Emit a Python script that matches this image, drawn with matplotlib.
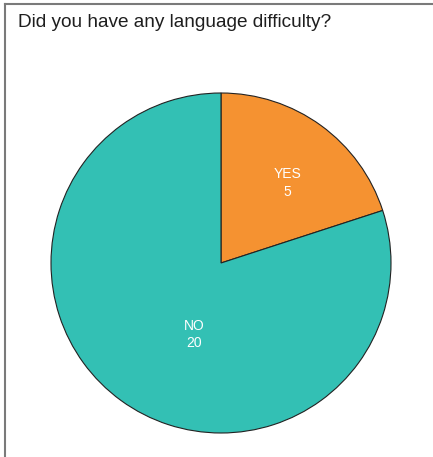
import matplotlib
matplotlib.use("Agg")
import matplotlib.pyplot as plt
from matplotlib.lines import Line2D

plt.rcParams['font.family'] = ['Liberation Sans', 'DejaVu Sans']

title = "Did you have any language difficulty?"
answers = ["YES", "NO"]
counts = [5, 20]
colors = ["#F59231", "#33C0B4"]
# label spots inside each wedge (axes data units, radius = 1)
label_xy = [(0.39, 0.47), (-0.16, -0.42)]

fig = plt.figure(figsize=(4.33, 4.57), dpi=100)

# frame lines on top and left
fig.add_artist(Line2D([5/433, 5/433], [0, 1 - 4/457], transform=fig.transFigure,
                      color="#7a7a7a", lw=1.5))
fig.add_artist(Line2D([5/433, 1], [1 - 4/457, 1 - 4/457], transform=fig.transFigure,
                      color="#7a7a7a", lw=1.5))

fig.text(18/433, 1 - 27/457, title, fontsize=13.7, color="#1e1e1e", ha="left", va="baseline")

ax = fig.add_axes([51/433, 24/457, 340/433, 340/457])
ax.pie(counts, colors=colors, startangle=90, counterclock=False,
       wedgeprops=dict(edgecolor="#222222", linewidth=0.8))
for (x, y), a, c in zip(label_xy, answers, counts):
    ax.text(x, y, f"{a}\n{c}", ha="center", va="center", color="white",
            fontsize=10, linespacing=1.3)
ax.set_xlim(-1, 1)
ax.set_ylim(-1, 1)
ax.set_aspect("equal")

fig.savefig("out.png", dpi=100)
